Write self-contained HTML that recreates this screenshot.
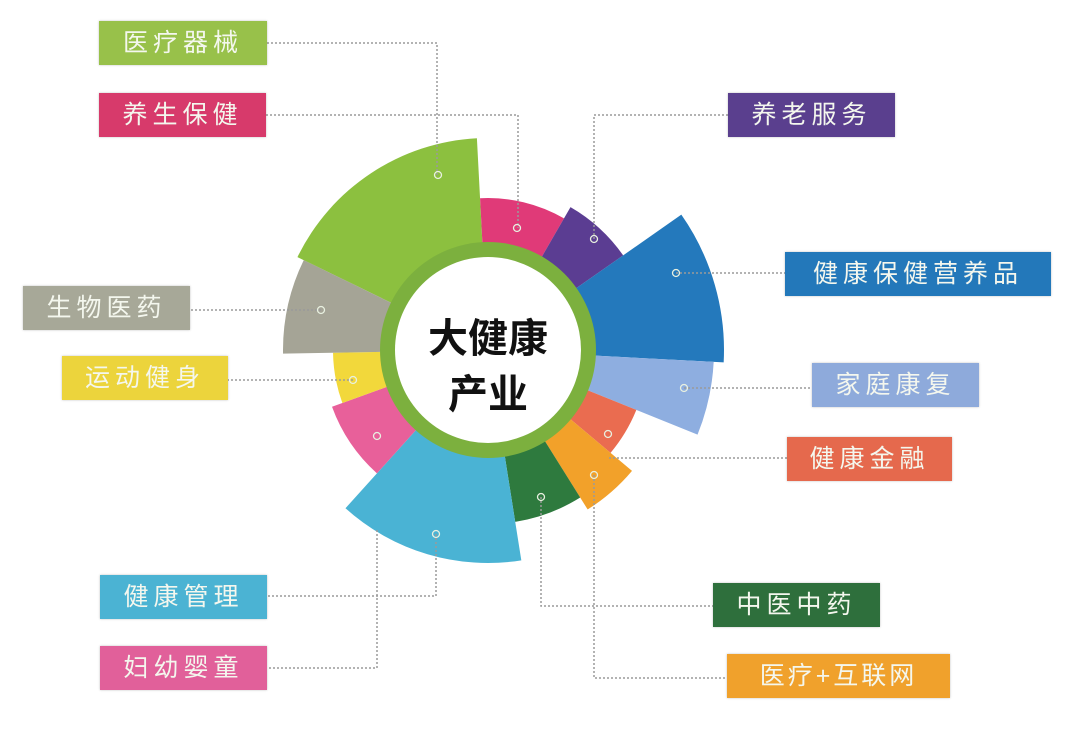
<!DOCTYPE html>
<html><head><meta charset="utf-8">
<style>
html,body{margin:0;padding:0;background:#fff;}
body{width:1080px;height:735px;position:relative;overflow:hidden;font-family:"Liberation Sans","Noto Sans CJK SC",sans-serif;}
.b{position:absolute;height:44px;line-height:44px;text-align:center;color:#f4f7ee;font-size:25px;letter-spacing:5px;box-shadow:0 0 2px rgba(0,0,0,.25);}
svg{position:absolute;left:0;top:0;}
</style></head><body>
<svg id="s" width="1080" height="735" viewBox="0 0 1080 735"></svg>
<div class="b" style="left:99px;top:21px;width:168px;background:#98c14a">医疗器械</div>
<div class="b" style="left:99px;top:93px;width:167px;background:#d73a6b">养生保健</div>
<div class="b" style="left:23px;top:286px;width:167px;background:#a7a898">生物医药</div>
<div class="b" style="left:62px;top:356px;width:166px;background:#ecd43c">运动健身</div>
<div class="b" style="left:100px;top:575px;width:167px;background:#4bb3d3">健康管理</div>
<div class="b" style="left:100px;top:646px;width:167px;background:#e1609a">妇幼婴童</div>
<div class="b" style="left:728px;top:93px;width:167px;background:#5a3f8e">养老服务</div>
<div class="b" style="left:785px;top:252px;width:266px;background:#2378ba">健康保健营养品</div>
<div class="b" style="left:812px;top:363px;width:167px;background:#8eaadb">家庭康复</div>
<div class="b" style="left:787px;top:437px;width:165px;background:#e5694d">健康金融</div>
<div class="b" style="left:713px;top:583px;width:167px;background:#2e6f3c">中医中药</div>
<div class="b" style="left:727px;top:654px;width:223px;background:#f0a12c;letter-spacing:3px">医疗+互联网</div>
<script>
var cx=488,cy=350,ri=98,NS="http://www.w3.org/2000/svg",s=document.getElementById("s");
function pt(a,r){a=a*Math.PI/180;return [cx+r*Math.sin(a),cy-r*Math.cos(a)];}
function add(tag,attrs){var e=document.createElementNS(NS,tag);for(var k in attrs)e.setAttribute(k,attrs[k]);s.appendChild(e);return e;}
var sec=[[296,357,212,"#8cc03f"],[357,390,152,"#e03a78"],[30,55,165,"#5b3d92"],[55,93,236,"#2479bc"],[93,112,226,"#8eaee0"],[112,130,160,"#ea6c50"],[130,148,188,"#f2a12a"],[148,171,174,"#2e7a3e"],[171,222,213,"#4ab3d4"],[222,250,166,"#e8609a"],[250,269,155,"#f2d83b"],[269,296,205,"#a5a496"]];
// connectors
var L=[[267,43,437,43,437,175],[266,115,518,115,518,228],[728,115,594,115,594,239],[676,273,785,273],[684,388,812,388],[609,458,787,458],[594,475,594,678,727,678],[541,497,541,606,713,606],[436,534,436,596,267,596],[377,530,377,668,267,668],[321,310,190,310],[353,380,228,380]];
sec.forEach(function(q){var a=pt(q[0],ri),b=pt(q[0],q[2]),c=pt(q[1],q[2]),d=pt(q[1],ri);
add("path",{d:"M"+a+"L"+b+"A"+q[2]+" "+q[2]+" 0 0 1 "+c+"L"+d+"A"+ri+" "+ri+" 0 0 0 "+a+"Z",fill:q[3]});});
add("circle",{cx:cx,cy:cy,r:108,fill:"#7cb03e"});
add("circle",{cx:cx,cy:cy,r:93,fill:"#fff"});
L.forEach(function(l){var p="M"+l[0]+" "+l[1];for(var i=2;i<l.length;i+=2)p+="L"+l[i]+" "+l[i+1];
add("path",{d:p,fill:"none",stroke:"#9a9a9a","stroke-width":1.5,"stroke-dasharray":"2 2"});});
[[438,175],[517,228],[594,239],[676,273],[684,388],[608,434],[594,475],[541,497],[436,534],[377,436],[353,380],[321,310]].forEach(function(p){
add("circle",{cx:p[0],cy:p[1],r:3.5,fill:"none",stroke:"#e8f0e0","stroke-width":1.3});});
var t1=add("text",{x:488,y:352,"text-anchor":"middle","font-size":40,"font-weight":"bold",fill:"#111","font-family":"Liberation Sans,Noto Sans CJK SC,sans-serif"});t1.textContent="大健康";
var t2=add("text",{x:488,y:408,"text-anchor":"middle","font-size":40,"font-weight":"bold",fill:"#111","font-family":"Liberation Sans,Noto Sans CJK SC,sans-serif"});t2.textContent="产业";
</script>
</body></html>
